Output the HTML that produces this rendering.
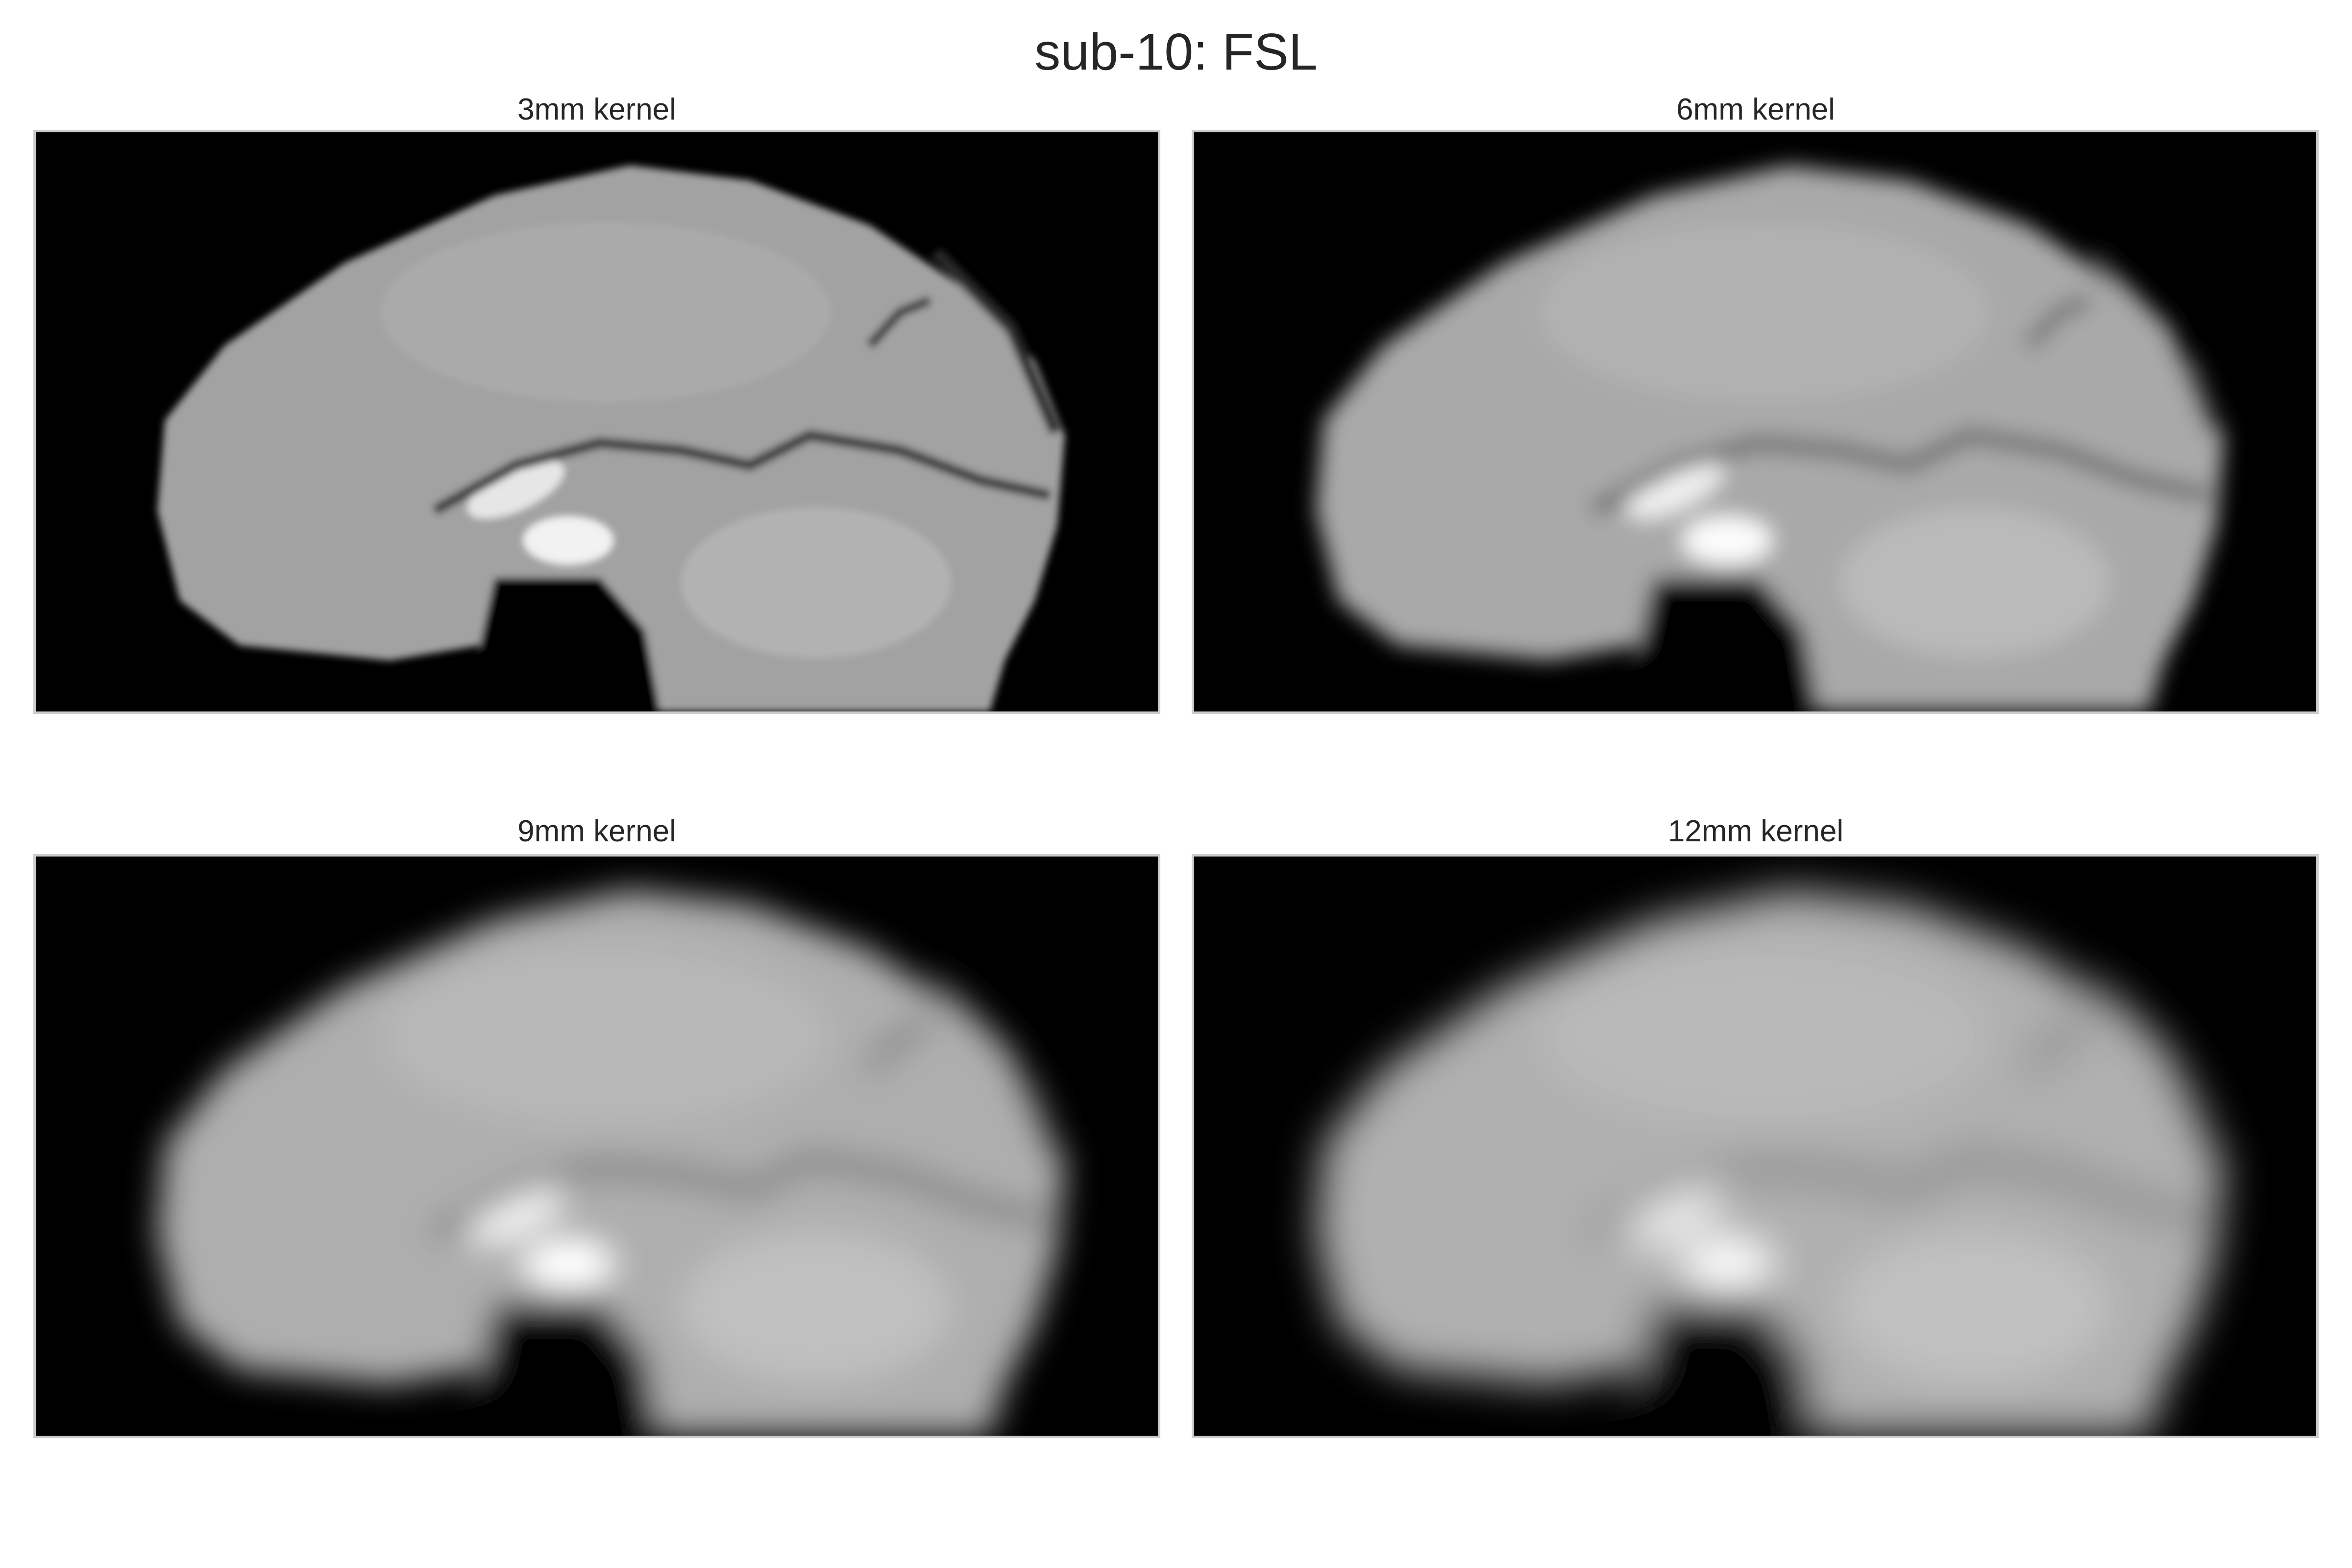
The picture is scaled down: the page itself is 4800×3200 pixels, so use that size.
<!DOCTYPE html>
<html><head><meta charset="utf-8"><style>
html,body{margin:0;padding:0;background:#fff;}
body{width:4800px;height:3200px;position:relative;overflow:hidden;font-family:"Liberation Sans",sans-serif;color:#262626;}
.t{position:absolute;text-align:center;white-space:nowrap;}
.panel{position:absolute;width:2290px;height:1182px;background:#000;outline:5px solid #cccccc;overflow:hidden;}
</style></head><body>
<div class="t" style="left:0;width:4800px;top:46px;font-size:106px;">sub-10: FSL</div>
<div class="t" style="left:73px;width:2290px;top:188px;font-size:62px;">3mm kernel</div>
<div class="t" style="left:2437px;width:2292px;top:188px;font-size:62px;">6mm kernel</div>
<div class="t" style="left:73px;width:2290px;top:1661px;font-size:62px;">9mm kernel</div>
<div class="t" style="left:2437px;width:2292px;top:1661px;font-size:62px;">12mm kernel</div>

<svg width="0" height="0" style="position:absolute">
<defs>
<g id="brain">
<path d="M81,252 L86,192 L126,142 L206,87 L306,42 L396,22 L476,32 L556,62 L616,102 L666,152 L686,202 L681,262 L666,312 L646,352 L636,386 L416,386 L406,332 L376,297 L306,297 L296,342 L236,352 L136,342 L96,312 Z" fill="#a2a2a2"/>
<ellipse cx="320" cy="238" rx="35" ry="14" fill="#e6e6e6" transform="rotate(-25 320 238)"/>
<ellipse cx="355" cy="272" rx="30" ry="16" fill="#f2f2f2"/>
<ellipse cx="520" cy="300" rx="90" ry="50" fill="#b2b2b2"/>
<ellipse cx="380" cy="120" rx="150" ry="60" fill="#aaaaaa"/>
<polyline points="266,252 320,222 376,207 430,212 476,222 516,202 576,212 630,232 676,242" fill="none" stroke="#3a3a3a" stroke-width="7"/>
<polyline points="556,142 576,120 596,112" fill="none" stroke="#3a3a3a" stroke-width="6"/>
<polyline points="600,80 650,130 680,200" fill="none" stroke="#2a2a2a" stroke-width="8"/>
<path d="M306,297 L376,297 L406,332 L416,386 L300,386 L296,342 Z" fill="#000"/>
</g>
<filter id="b3" x="-20%" y="-20%" width="140%" height="140%"><feGaussianBlur stdDeviation="2.5"/></filter>
<filter id="b6" x="-20%" y="-20%" width="140%" height="140%"><feGaussianBlur stdDeviation="7"/><feComponentTransfer><feFuncR type="linear" slope="1.1"/><feFuncG type="linear" slope="1.1"/><feFuncB type="linear" slope="1.1"/></feComponentTransfer></filter>
<filter id="b9" x="-20%" y="-20%" width="140%" height="140%"><feGaussianBlur stdDeviation="11"/><feComponentTransfer><feFuncR type="linear" slope="1.18"/><feFuncG type="linear" slope="1.18"/><feFuncB type="linear" slope="1.18"/></feComponentTransfer></filter>
<filter id="b12" x="-20%" y="-20%" width="140%" height="140%"><feGaussianBlur stdDeviation="14"/><feComponentTransfer><feFuncR type="linear" slope="1.2"/><feFuncG type="linear" slope="1.2"/><feFuncB type="linear" slope="1.2"/></feComponentTransfer></filter>
</defs></svg>

<div class="panel" style="left:73px;top:270px;">
<svg width="2290" height="1182" viewBox="0 0 748 386" preserveAspectRatio="none"><use href="#brain" filter="url(#b3)"/></svg></div>
<div class="panel" style="left:2437px;top:270px;">
<svg width="2292" height="1182" viewBox="0 0 748 386" preserveAspectRatio="none"><use href="#brain" filter="url(#b6)"/></svg></div>
<div class="panel" style="left:73px;top:1748px;">
<svg width="2290" height="1182" viewBox="0 0 748 386" preserveAspectRatio="none"><use href="#brain" filter="url(#b9)"/></svg></div>
<div class="panel" style="left:2437px;top:1748px;">
<svg width="2292" height="1182" viewBox="0 0 748 386" preserveAspectRatio="none"><use href="#brain" filter="url(#b12)"/></svg></div>
</body></html>
